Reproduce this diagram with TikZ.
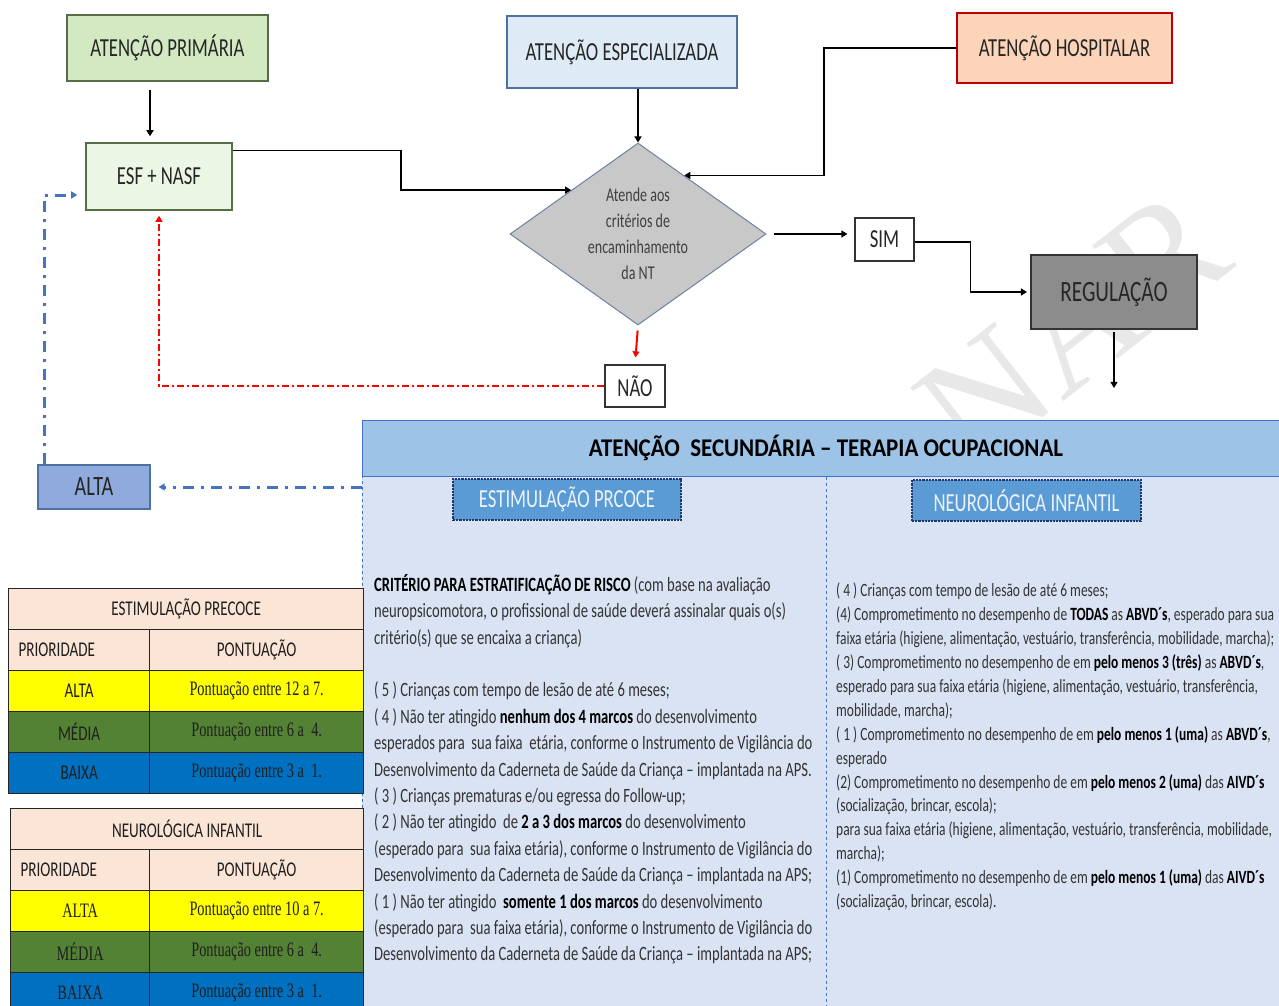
\documentclass[tikz,border=0pt]{standalone}
\usepackage{fontspec}
\setmainfont{Carlito}[FakeStretch=0.72]
\newfontfamily\headfont{Carlito}[FakeStretch=0.9]
\newfontfamily\timesnarrow{Liberation Serif}[FakeStretch=0.7]
\newfontfamily\wmfont{Liberation Serif}
\usetikzlibrary{arrows.meta,shapes.geometric,calc}
\definecolor{primfill}{RGB}{210,233,193}
\definecolor{primline}{RGB}{84,110,70}
\definecolor{esffill}{RGB}{236,246,228}
\definecolor{espfill}{RGB}{222,235,247}
\definecolor{espline}{RGB}{79,113,160}
\definecolor{hospfill}{RGB}{251,212,185}
\definecolor{hospline}{RGB}{192,0,0}
\definecolor{regfill}{RGB}{140,140,140}
\definecolor{diafill}{RGB}{200,200,200}
\definecolor{dialine}{RGB}{110,130,160}
\definecolor{altafill}{RGB}{143,170,220}
\definecolor{headfill}{RGB}{157,195,230}
\definecolor{bodyfill}{RGB}{218,227,243}
\definecolor{panelline}{RGB}{68,114,196}
\definecolor{subfill}{RGB}{91,155,213}
\definecolor{subline}{RGB}{31,56,100}
\definecolor{peach}{RGB}{251,229,214}
\definecolor{tabyellow}{RGB}{255,255,0}
\definecolor{tabgreen}{RGB}{84,130,53}
\definecolor{tabblue}{RGB}{0,112,192}
\tikzset{%
  tipA/.tip={Triangle[angle=60:7pt]},
  flowbox/.style={draw=#1, line width=1.5pt, inner sep=0pt, align=center, text=black!85,
    font=\fontsize{26}{30}\selectfont},
  conn/.style={line width=1.6pt, -tipA},
  redconn/.style={red, line width=2pt, dash pattern=on 7pt off 3pt on 2pt off 3pt, -tipA},
  blueconn/.style={panelline, line width=3pt, dash pattern=on 11pt off 7pt on 3pt off 7pt, -tipA},
  subbox/.style={draw=subline, densely dotted, line width=2.2pt, fill=subfill, text=white!88!subfill,
    minimum height=41, font=\fontsize{26}{30}\selectfont},
  cell/.style={draw=black!85, line width=1.3pt, anchor=north west, minimum height=41, inner sep=0pt,
    text=black!88, font=\fontsize{21}{24}\selectfont},
  serifcell/.style={cell, font=\timesnarrow\fontsize{20.5}{22}\selectfont},
  leftcell/.style={cell, align=left, inner xsep=10pt, text width=121},
}

\begin{document}
\begin{tikzpicture}[x=1pt,y=-1pt]
\useasboundingbox (0,0) rectangle (1279,1006);
\clip (0,0) rectangle (1279,1006);
\fill[white] (0,0) rectangle (1279,1006);
% watermark
\node[text=gray!18, font=\wmfont\fontsize{160}{160}\selectfont, rotate=38] (wm) at (1072,328) {NAR};
% top flow
\node[flowbox=primline, fill=primfill, minimum width=201, minimum height=66] (prim) at (167.5,48) {ATENÇÃO PRIMÁRIA};
\node[flowbox=primline, fill=esffill, minimum width=146, minimum height=67] (esf) at (159,176.5) {ESF + NASF};
\node[flowbox=espline, fill=espfill, minimum width=230, minimum height=72] (esp) at (622,52) {ATENÇÃO ESPECIALIZADA};
\node[flowbox=hospline, fill=hospfill, minimum width=215, minimum height=70] (hosp) at (1064.5,48) {ATENÇÃO HOSPITALAR};
\node[diamond, draw=dialine, line width=1pt, fill=diafill, minimum width=256, minimum height=182, inner sep=0pt,
  aspect=1.4, align=center, text=black!75, font=\fontsize{19.5}{26}\selectfont] (dia) at (638,234)
  {Atende aos\\critérios de\\encaminhamento\\da NT};
\node[flowbox=black!80, fill=white, line width=1.2pt, minimum width=59, minimum height=43] (sim) at (884.5,239.5) {SIM};
\node[flowbox=black!80, fill=regfill, line width=2pt, minimum width=166, minimum height=74,
  font=\fontsize{29.5}{34}\selectfont] (reg) at (1114,292) {REGULAÇÃO};
\node[flowbox=black!80, fill=white, line width=1.2pt, minimum width=60, minimum height=42] (nao) at (635,386) {NÃO};
\node[flowbox=espline, fill=altafill, line width=1.2pt, minimum width=112, minimum height=44,
  font=\fontsize{28}{32}\selectfont] (alta) at (94,487) {ALTA};
\coordinate (regout) at (1114,388);
\draw[conn, shorten <=8pt, shorten >=6pt] ([xshift=-9pt]esf.north |- prim.south) -- ([xshift=-9pt]esf.north);
\draw[conn] ([yshift=26pt]esf.east) -- ++(168,0) |- ($(dia.north)!0.52!(dia.west)$);
\draw[conn] (dia.north |- esp.south) -- (dia.north);
\draw[conn] (hosp.west) -- ++(-132,0) |- ($(dia.north)!0.36!(dia.east)$);
\draw[conn, shorten <=7pt, shorten >=7pt] (dia.east) -- (dia.east -| sim.west);
\draw[conn, shorten >=3pt] ([yshift=-2.5pt]sim.east) -- ++(56,0) |- (reg.west);
\draw[conn, line width=1.2pt, shorten <=2pt] (reg.south) -- (regout);
\draw[red, line width=2pt, -tipA, shorten <=5pt, shorten >=7pt] (dia.south) -- (nao.north);
\draw[redconn, shorten >=5pt] (nao.west) -| (esf.south);
% secondary care panel
\node[draw=panelline, line width=1pt, fill=bodyfill, dashed, minimum width=928, minimum height=539, inner sep=0pt] (secbody) at (826,745.5) {};
\node[draw=panelline, line width=1pt, fill=headfill, minimum width=928, minimum height=56, inner sep=0pt,
  text=black, font=\headfont\bfseries\fontsize{25.5}{30}\selectfont] (sechead) at (826,448) {ATENÇÃO\ \ SECUNDÁRIA – TERAPIA OCUPACIONAL};
\draw[panelline, dashed, line width=1pt] (sechead.south) -- (secbody.south);
\node[subbox, minimum width=228] (subep) at (567,499.5) {ESTIMULAÇÃO PRCOCE};
\node[subbox, minimum width=229] (subni) at (1026.5,500.5) {NEUROLÓGICA INFANTIL};
\draw[blueconn, shorten >=8pt] (secbody.west |- alta.east) -- (alta.east);
\draw[blueconn, shorten >=8pt] ([xshift=-50pt]alta.north) |- ([yshift=-18.5pt]esf.west);
\node[anchor=north west, inner sep=0pt, align=left, text=black!80, font=\fontsize{20.3}{26.4}\selectfont] (crit) at (374,574)
{\textbf{\color{black}CRITÉRIO PARA ESTRATIFICAÇÃO DE RISCO} (com base na avaliação\\
neuropsicomotora, o profissional de saúde deverá assinalar quais o(s)\\
critério(s) que se encaixa a criança)\\[26.4pt]
( 5 ) Crianças com tempo de lesão de até 6 meses;\\
( 4 ) Não ter atingido \textbf{\color{black}nenhum dos 4 marcos} do desenvolvimento\\
esperados para\ \ sua faixa\ \ etária, conforme o Instrumento de Vigilância do\\
Desenvolvimento da Caderneta de Saúde da Criança – implantada na APS.\\
( 3 ) Crianças prematuras e/ou egressa do Follow-up;\\
( 2 ) Não ter atingido\ \ de \textbf{\color{black}2 a 3 dos marcos} do desenvolvimento\\
(esperado para\ \ sua faixa etária), conforme o Instrumento de Vigilância do\\
Desenvolvimento da Caderneta de Saúde da Criança – implantada na APS;\\
( 1 ) Não ter atingido\ \ \textbf{\color{black}somente 1 dos marcos} do desenvolvimento\\
(esperado para\ \ sua faixa etária), conforme o Instrumento de Vigilância do\\
Desenvolvimento da Caderneta de Saúde da Criança – implantada na APS;};
\node[anchor=north west, inner sep=0pt, align=left, text=black!80, font=\fontsize{18.7}{23.9}\selectfont] (neuro) at (836,583)
{( 4 ) Crianças com tempo de lesão de até 6 meses;\\
(4) Comprometimento no desempenho de \textbf{\color{black}TODAS} as \textbf{\color{black}ABVD´s}, esperado para sua\\
faixa etária (higiene, alimentação, vestuário, transferência, mobilidade, marcha);\\
( 3) Comprometimento no desempenho de em \textbf{\color{black}pelo menos 3 (três)} as \textbf{\color{black}ABVD´s},\\
esperado para sua faixa etária (higiene, alimentação, vestuário, transferência,\\
mobilidade, marcha);\\
( 1 ) Comprometimento no desempenho de em \textbf{\color{black}pelo menos 1 (uma)} as \textbf{\color{black}ABVD´s},\\
esperado\\
(2) Comprometimento no desempenho de em \textbf{\color{black}pelo menos 2 (uma)} das \textbf{\color{black}AIVD´s}\\
(socialização, brincar, escola);\\
para sua faixa etária (higiene, alimentação, vestuário, transferência, mobilidade,\\
marcha);\\
(1) Comprometimento no desempenho de em \textbf{\color{black}pelo menos 1 (uma)} das \textbf{\color{black}AIVD´s}\\
(socialização, brincar, escola).};
% tables
\node[cell, fill=peach, minimum width=355] (epTit) at (8,588) {ESTIMULAÇÃO PRECOCE};
\node[leftcell, fill=peach] (epPri) at (8,629) {PRIORIDADE};
\node[cell, fill=peach, minimum width=214] (epPon) at (149,629) {PONTUAÇÃO};
\node[cell, fill=tabyellow, minimum width=141] (epAlta) at (8,670) {ALTA};
\node[serifcell, fill=tabyellow, minimum width=214] (epAltaP) at (149,670) {Pontuação entre 12 a 7.};
\node[cell, fill=tabgreen, minimum width=141] (epMedia) at (8,711) {MÉDIA};
\node[serifcell, fill=tabgreen, minimum width=214] (epMediaP) at (149,711) {Pontuação entre 6 a\ \ 4.};
\node[cell, fill=tabblue, minimum width=141] (epBaixa) at (8,752) {BAIXA};
\node[serifcell, fill=tabblue, minimum width=214] (epBaixaP) at (149,752) {Pontuação entre 3 a\ \ 1.};
\node[cell, fill=peach, minimum width=353] (niTit) at (10,808) {NEUROLÓGICA INFANTIL};
\node[leftcell, fill=peach, text width=119] (niPri) at (10,849) {PRIORIDADE};
\node[cell, fill=peach, minimum width=214] (niPon) at (149,849) {PONTUAÇÃO};
\node[serifcell, fill=tabyellow, minimum width=139] (niAlta) at (10,890) {ALTA};
\node[serifcell, fill=tabyellow, minimum width=214] (niAltaP) at (149,890) {Pontuação entre 10 a 7.};
\node[serifcell, fill=tabgreen, minimum width=139] (niMedia) at (10,931) {MÉDIA};
\node[serifcell, fill=tabgreen, minimum width=214] (niMediaP) at (149,931) {Pontuação entre 6 a\ \ 4.};
\node[serifcell, fill=tabblue, minimum width=139] (niBaixa) at (10,972) {BAIXA};
\node[serifcell, fill=tabblue, minimum width=214] (niBaixaP) at (149,972) {Pontuação entre 3 a\ \ 1.};
\end{tikzpicture}
\end{document}
